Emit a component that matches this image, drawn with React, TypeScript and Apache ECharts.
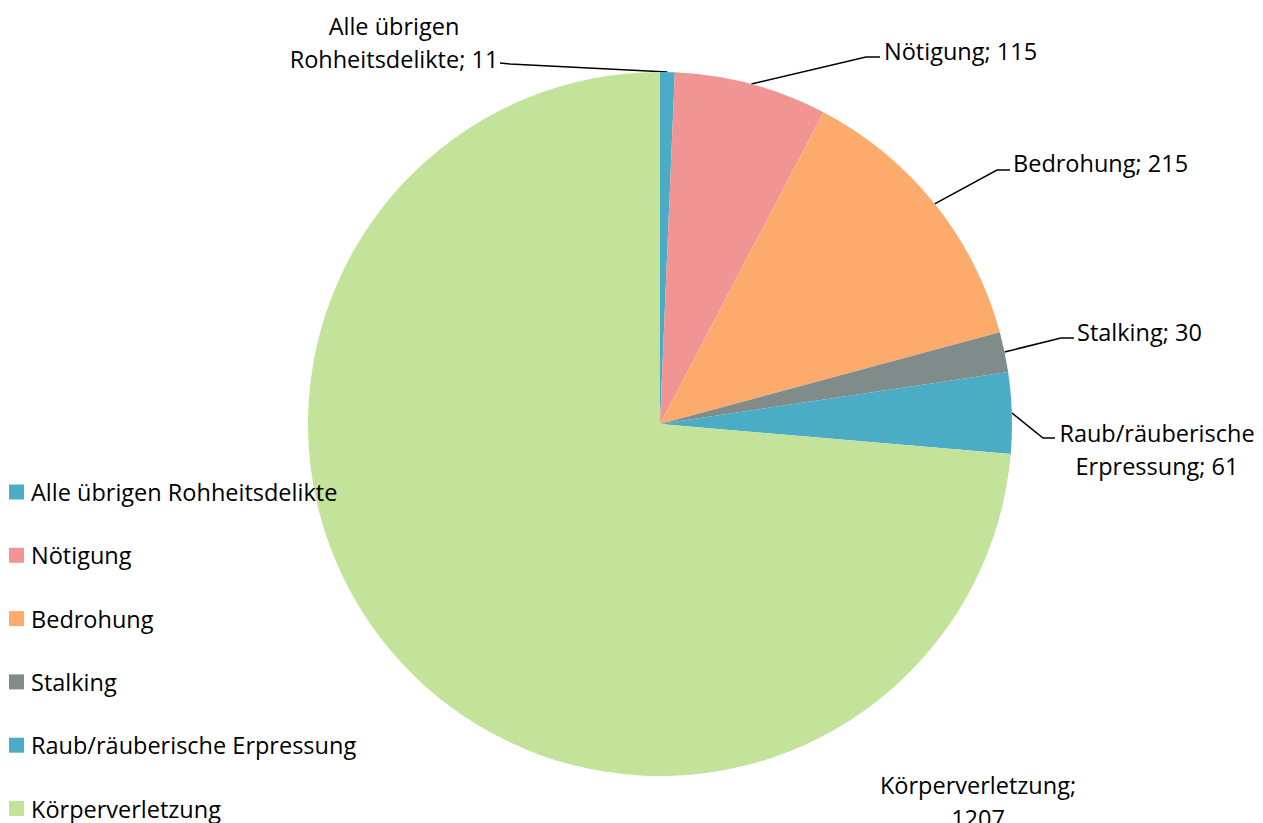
import React, { useEffect, useRef } from "react";
import * as echarts from "echarts";

const categories = [
  "Alle übrigen Rohheitsdelikte",
  "Nötigung",
  "Bedrohung",
  "Stalking",
  "Raub/räuberische Erpressung",
  "Körperverletzung",
];
const values = [11, 115, 215, 30, 61, 1207];
const colors = ["#4bacc6", "#f09494", "#fdab6d", "#7f8c89", "#4bacc6", "#c3e29a"];
const labelNames = [
  "Alle übrigen\nRohheitsdelikte",
  "Nötigung",
  "Bedrohung",
  "Stalking",
  "Raub/räuberische\nErpressung",
  "Körperverletzung",
];
const labelSeparators = ["; ", "; ", "; ", "; ", "; ", ";\n"];

// label placement (layout only)
const labelPlacement = [
  { x: 394, y: 42, align: "center", line: [[510, 64], [500, 63]] },
  { x: 884, y: 51, align: "left", line: [[866, 57], [880, 57]] },
  { x: 1013, y: 163, align: "left", line: [[997, 170], [1010, 170]] },
  { x: 1077, y: 332, align: "left", line: [[1061, 338], [1074, 338]] },
  { x: 1157, y: 449, align: "center", line: [[1043, 438], [1055, 438]] },
  { x: 978, y: 801, align: "center", line: null },
];

export default function App() {
  const ref = useRef<HTMLDivElement>(null);
  useEffect(() => {
    document.body.style.margin = "0";
    const chart = echarts.init(ref.current!, null, { renderer: "svg" });
    const font = "'Open Sans', sans-serif";
    const fs = 23.5;
    chart.setOption({
      animation: false,
      backgroundColor: "#ffffff",
      color: colors,
      legend: {
        orient: "vertical",
        left: 9,
        top: 480,
        padding: 0,
        height: 600,
        itemWidth: 15,
        itemHeight: 15,
        itemGap: 39.3,
        icon: "rect",
        selectedMode: false,
        textStyle: {
          fontSize: fs,
          color: "#000",
          fontFamily: font,
          padding: [0, 0, 0, 2],
        },
        data: categories,
      },
      series: [
        {
          type: "pie",
          center: [660, 424],
          radius: 352,
          startAngle: 90,
          clockwise: true,
          avoidLabelOverlap: false,
          label: {
            show: true,
            fontSize: fs,
            lineHeight: 33,
            color: "#000",
            fontFamily: font,
            formatter: (p: any) =>
              labelNames[p.dataIndex] + labelSeparators[p.dataIndex] + p.value,
          },
          labelLine: {
            show: true,
            length: 20,
            length2: 10,
            lineStyle: { color: "#000", width: 1.5 },
          },
          labelLayout: (params: any) => {
            const pl = labelPlacement[params.dataIndex];
            const res: any = {
              x: pl.x,
              y: pl.y,
              align: pl.align,
              verticalAlign: "middle",
            };
            if (pl.line && params.labelLinePoints) {
              res.labelLinePoints = [params.labelLinePoints[0], pl.line[0], pl.line[1]];
            }
            return res;
          },
          data: categories.map((c, i) => ({
            name: c,
            value: values[i],
            labelLine: { show: labelPlacement[i].line !== null },
          })),
        },
      ],
    });
    return () => chart.dispose();
  }, []);
  return <div ref={ref} style={{ width: 1263, height: 823 }} />;
}
